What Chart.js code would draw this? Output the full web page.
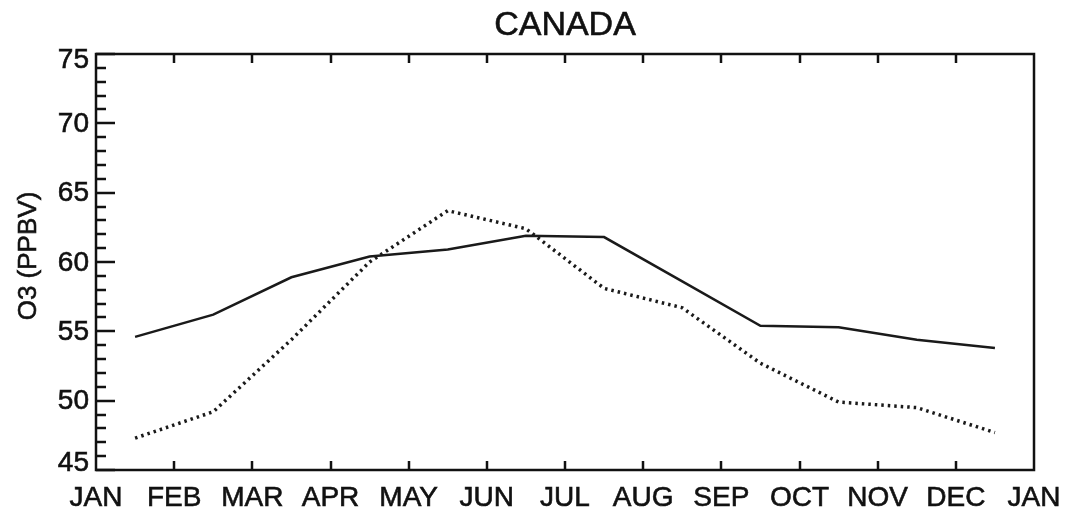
<!DOCTYPE html>
<html>
<head>
<meta charset="utf-8">
<title>CANADA</title>
<script src="https://cdn.jsdelivr.net/npm/chart.js@4/dist/chart.umd.min.js"></script>
<style>
  html, body { margin: 0; padding: 0; background: #fff; }
  #wrap { width: 1074px; height: 514px; }
</style>
</head>
<body>
<div id="wrap"><canvas id="c" width="1074" height="514"></canvas></div>
<script>
// Month labels along the bottom axis (13 boundaries: Jan .. next Jan)
const monthLabels = ['JAN','FEB','MAR','APR','MAY','JUN','JUL','AUG','SEP','OCT','NOV','DEC','JAN'];
// Monthly mean ozone, ppbv (plotted at mid-month)
const solidSeries  = [54.6, 56.2, 58.9, 60.4, 60.9, 61.9, 61.8, 58.6, 55.4, 55.3, 54.4, 53.8];
const dottedSeries = [47.3, 49.2, 54.4, 60.0, 63.7, 62.4, 58.1, 56.7, 52.7, 49.9, 49.5, 47.7];
// Y axis labelled values and minor step
const yMajorTicks = [45, 50, 55, 60, 65, 70, 75];
const yMinorStep = 1;

const titleText = 'CANADA';
const yTitleText = 'O3 (PPBV)';
const FONT = '"Liberation Sans", Arial, Helvetica, sans-serif';
const INK = '#111';

const toPoints = vals => vals.map((v, i) => ({ x: i + 0.5, y: v }));

const framePlugin = {
  id: 'idlFrame',
  beforeDraw(chart) {
    const ctx = chart.ctx;
    ctx.save();
    ctx.fillStyle = '#fff';
    ctx.fillRect(0, 0, chart.width, chart.height);
    ctx.restore();
  },
  afterDraw(chart) {
    const { ctx, chartArea: a, scales: { x, y } } = chart;
    ctx.save();
    ctx.strokeStyle = INK;
    ctx.lineWidth = 2.5;
    ctx.lineCap = 'butt';
    // frame
    ctx.strokeRect(a.left, a.top, a.right - a.left, a.bottom - a.top);

    // x ticks: inward on bottom and top
    ctx.beginPath();
    for (let i = 1; i < monthLabels.length - 1; i++) {
      const px = Math.round(x.getPixelForValue(i));
      ctx.moveTo(px, a.bottom); ctx.lineTo(px, a.bottom - 9);
      ctx.moveTo(px, a.top);    ctx.lineTo(px, a.top + 9);
    }
    // y ticks on left: minor every unit, major at labelled values
    for (let v = y.min; v <= y.max; v += yMinorStep) {
      const py = Math.round(y.getPixelForValue(v));
      const len = yMajorTicks.includes(v) ? 19 : 10;
      ctx.moveTo(a.left, py); ctx.lineTo(a.left + len, py);
    }
    ctx.stroke();

    // labels
    ctx.fillStyle = INK;
    ctx.strokeStyle = INK;
    ctx.lineWidth = 0.6;
    ctx.font = '28px ' + FONT;
    ctx.textAlign = 'center';
    ctx.textBaseline = 'middle';
    monthLabels.forEach((m, i) => {
      const px = x.getPixelForValue(i);
      ctx.fillText(m, px, 498);
      ctx.strokeText(m, px, 498);
    });
    ctx.textAlign = 'right';
    yMajorTicks.forEach(v => {
      let py = y.getPixelForValue(v);
      py = Math.min(Math.max(py, a.top + 5), a.bottom - 8);
      ctx.fillText(String(v), a.left - 7, py + 1);
      ctx.strokeText(String(v), a.left - 7, py + 1);
    });

    // title
    ctx.textAlign = 'center';
    ctx.font = '34px ' + FONT;
    ctx.fillText(titleText, (a.left + a.right) / 2, 26);
    ctx.strokeText(titleText, (a.left + a.right) / 2, 26);

    // y axis title
    ctx.font = '26px ' + FONT;
    ctx.translate(29, 256);
    ctx.rotate(-Math.PI / 2);
    ctx.fillText(yTitleText, 0, 0);
    ctx.strokeText(yTitleText, 0, 0);
    ctx.restore();
  }
};

new Chart(document.getElementById('c'), {
  type: 'line',
  data: {
    datasets: [
      {
        label: 'solid',
        data: toPoints(solidSeries),
        borderColor: '#1a1a1a',
        borderWidth: 2.5,
        pointRadius: 0,
        tension: 0,
        fill: false
      },
      {
        label: 'dotted',
        data: toPoints(dottedSeries),
        borderColor: '#1a1a1a',
        borderWidth: 3.5,
        borderDash: [2.5, 4],
        borderCapStyle: 'butt',
        pointRadius: 0,
        tension: 0,
        fill: false
      }
    ]
  },
  options: {
    responsive: false,
    animation: false,
    layout: { padding: { left: 96, right: 40, top: 54, bottom: 44 } },
    plugins: { legend: { display: false }, tooltip: { enabled: false }, title: { display: false } },
    scales: {
      x: { type: 'linear', min: 0, max: 12, display: false },
      y: { type: 'linear', min: 45, max: 75, display: false }
    }
  },
  plugins: [framePlugin]
});
</script>
</body>
</html>
